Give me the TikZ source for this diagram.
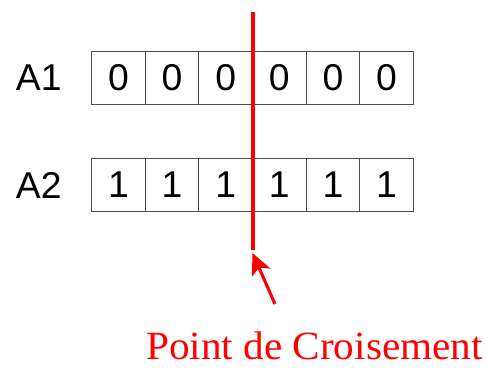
\documentclass[tikz,border=0pt]{standalone}
\usepackage{fontspec}
\setmainfont{Liberation Serif}
\newfontfamily\sansfont{Liberation Sans}
\usetikzlibrary{arrows.meta}

\tikzset{
  gene/.style={draw=black!70, line width=0.8pt, minimum width=40.2pt, minimum height=40pt, inner sep=0pt, font=\sansfont\fontsize{28}{30}\selectfont},
  chromo/.style={inner sep=0pt, font=\sansfont\fontsize{28}{30}\selectfont},
  cut/.style={red, line width=3pt}
}

\begin{document}
\begin{tikzpicture}[x=0.75pt,y=0.75pt,yscale=-1,xscale=1]
\useasboundingbox (0,0) rectangle (489,368);

% parents
\node[chromo] (A1) at (38.8,78) {A1};
\node[chromo] (A2) at (38.8,185) {A2};
\foreach \v [count=\i] in {0,0,0,0,0,0}
  \node[gene] (a1-\i) at ({91.7+53.6*(\i-0.5)},78) {\v};
\foreach \v [count=\i] in {1,1,1,1,1,1}
  \node[gene] (a2-\i) at ({91.7+53.6*(\i-0.5)},185) {\v};

% crossover line
\coordinate (top) at (252.7,11.7);
\coordinate (bottom) at (252.7,250);
\draw[cut] (top) -- (bottom);

% label and arrow
\node[red, anchor=base, inner sep=0pt, xscale=1.03, font=\fontsize{30}{32}\selectfont] (point) at (314.5,359) {Point de Croisement};
\coordinate (tail) at (275,304);
\coordinate (tip) at (252.5,253);
\draw[red, line width=2.3pt, -{Stealth[length=16pt, width=15pt, inset=4pt]}] (tail) -- (tip);
\end{tikzpicture}
\end{document}
